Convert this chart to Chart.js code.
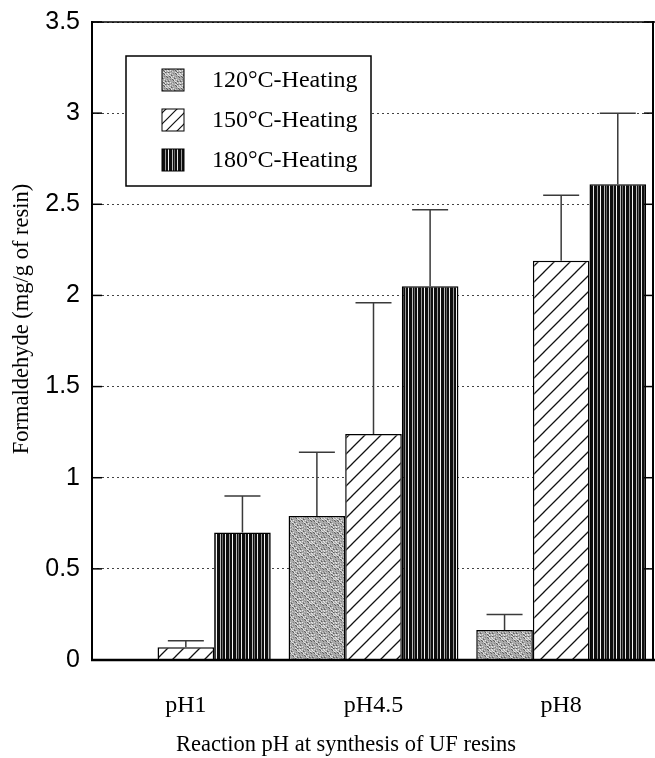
<!DOCTYPE html>
<html><head><meta charset="utf-8">
<script src="https://cdn.jsdelivr.net/npm/chart.js@4.4.0/dist/chart.umd.min.js"></script>
<style>html,body{margin:0;padding:0;background:#fff;overflow:hidden}#wrap{width:655px;height:758px;position:relative}</style>
</head><body><div id="wrap"><canvas id="c" width="655" height="758"></canvas></div>
<script>
const categories = ['pH1', 'pH4.5', 'pH8'];
const seriesLabels = ['120°C-Heating', '150°C-Heating', '180°C-Heating'];
const values120 = [0, 0.79, 0.165];
const values150 = [0.07, 1.24, 2.19];
const values180 = [0.70, 2.05, 2.61];
const errors120 = [0, 0.35, 0.085];
const errors150 = [0.035, 0.72, 0.36];
const errors180 = [0.20, 0.42, 0.39];
const yTicks = [0, 0.5, 1, 1.5, 2, 2.5, 3, 3.5];
const yTitle = 'Formaldehyde (mg/g of resin)';
const xTitle = 'Reaction pH at synthesis of UF resins';

const SERIF = '"Liberation Serif", "Times New Roman", serif';

function mk(w, h) { const c = document.createElement('canvas'); c.width = w; c.height = h; return c; }
function stipplePattern() {
  const c = mk(12, 12), g = c.getContext('2d');
  g.fillStyle = '#ababab'; g.fillRect(0, 0, 12, 12);
  for (let i = 0; i < 12; i++) for (let j = 0; j < 12; j++) {
    const h = (i * 7 + j * 11 + i * j * 3) % 9;
    if (h === 0) { g.fillStyle = '#5e5e5e'; g.fillRect(i, j, 1, 1); }
    else if (h === 4) { g.fillStyle = '#e4e4e4'; g.fillRect(i, j, 1, 1); }
    else if (h === 7) { g.fillStyle = '#858585'; g.fillRect(i, j, 1, 1); }
    else if (h === 2) { g.fillStyle = '#cfcfcf'; g.fillRect(i, j, 1, 1); }
  }
  return g.createPattern(c, 'repeat');
}
function hatchPattern(step, lw) {
  const c = mk(step, step), g = c.getContext('2d');
  g.fillStyle = '#fff'; g.fillRect(0, 0, step, step);
  g.strokeStyle = '#111'; g.lineWidth = lw;
  g.beginPath();
  g.moveTo(-2, step + 2); g.lineTo(step + 2, -2);
  g.moveTo(-2, 2); g.lineTo(2, -2);
  g.moveTo(step - 2, step + 2); g.lineTo(step + 2, step - 2);
  g.stroke();
  return g.createPattern(c, 'repeat');
}
function stripePattern() {
  const c = mk(16, 4), g = c.getContext('2d');
  g.fillStyle = '#0e0e0e'; g.fillRect(0, 0, 16, 4);
  const lights = [[1, '#e8e8e8'], [5, '#9a9a9a'], [8, '#f6f6f6'], [12, '#bcbcbc'], [14, '#6a6a6a']];
  lights.forEach(([x, col]) => { g.fillStyle = col; g.fillRect(x, 0, 1, 4); });
  return g.createPattern(c, 'repeat');
}

const ctx0 = document.getElementById('c').getContext('2d');
const fills = [stipplePattern(), hatchPattern(16, 1.3), stripePattern()];
const legendFills = [stipplePattern(), hatchPattern(11, 1.2), stripePattern()];
const seriesValues = [values120, values150, values180];
const seriesErrors = [errors120, errors150, errors180];

const framePlugin = {
  id: 'frame',
  afterDatasetsDraw(chart) {
    const { ctx, chartArea: a, scales: { y } } = chart;
    ctx.save();
    ctx.strokeStyle = '#000';
    ctx.lineWidth = 1.5;
    ctx.beginPath(); ctx.moveTo(a.left, a.top); ctx.lineTo(a.right, a.top); ctx.stroke();
    ctx.lineWidth = 2;
    ctx.beginPath(); ctx.moveTo(a.left, a.top - 1); ctx.lineTo(a.left, a.bottom); ctx.stroke();
    ctx.beginPath(); ctx.moveTo(a.right - 2, a.top - 1); ctx.lineTo(a.right - 2, a.bottom); ctx.stroke();
    ctx.lineWidth = 2.5;
    ctx.beginPath(); ctx.moveTo(a.left - 1, a.bottom); ctx.lineTo(a.right, a.bottom); ctx.stroke();
    ctx.lineWidth = 1.5;
    y.ticks.forEach(t => {
      const py = y.getPixelForValue(t.value);
      ctx.beginPath(); ctx.moveTo(a.left, py); ctx.lineTo(a.left + 10, py); ctx.stroke();
      ctx.beginPath(); ctx.moveTo(a.right - 2, py); ctx.lineTo(a.right - 11, py); ctx.stroke();
    });
    ctx.restore();
  }
};

const errorPlugin = {
  id: 'errs',
  afterDatasetsDraw(chart) {
    const { ctx, scales: { y } } = chart;
    ctx.save();
    ctx.strokeStyle = '#3a3a3a';
    ctx.lineWidth = 1.5;
    chart.data.datasets.forEach((ds, di) => {
      const meta = chart.getDatasetMeta(di);
      ds.data.forEach((v, i) => {
        const e = seriesErrors[di][i];
        if (!e) return;
        const bar = meta.data[i];
        const top = y.getPixelForValue(v + e);
        const base = y.getPixelForValue(v);
        ctx.beginPath();
        ctx.moveTo(bar.x, base); ctx.lineTo(bar.x, top);
        ctx.moveTo(bar.x - 18, top); ctx.lineTo(bar.x + 18, top);
        ctx.stroke();
      });
    });
    ctx.restore();
  }
};

const legendPlugin = {
  id: 'boxLegend',
  afterDatasetsDraw(chart) {
    const { ctx, chartArea: a } = chart;
    const x0 = a.left + 34, y0 = a.top + 34, w = 245, h = 130;
    ctx.save();
    ctx.fillStyle = '#fff'; ctx.fillRect(x0, y0, w, h);
    ctx.strokeStyle = '#000'; ctx.lineWidth = 1.5; ctx.strokeRect(x0, y0, w, h);
    chart.data.datasets.forEach((ds, i) => {
      const cy = y0 + 24 + i * 40;
      ctx.fillStyle = legendFills[i];
      ctx.fillRect(x0 + 36, cy - 11, 22, 22);
      ctx.lineWidth = 1; ctx.strokeStyle = '#000';
      ctx.strokeRect(x0 + 36, cy - 11, 22, 22);
      ctx.fillStyle = '#000';
      ctx.font = '24px ' + SERIF;
      ctx.textBaseline = 'middle';
      ctx.textAlign = 'left';
      ctx.fillText(ds.label, x0 + 86, cy + 1);
    });
    ctx.restore();
  }
};

const titlePlugin = {
  id: 'axisTitles',
  afterDraw(chart) {
    const { ctx, chartArea: a } = chart;
    ctx.save();
    ctx.fillStyle = '#000';
    ctx.font = '22.5px ' + SERIF;
    ctx.textAlign = 'center';
    ctx.textBaseline = 'middle';
    ctx.fillText(xTitle, a.left + 254, a.bottom + 85);
    ctx.translate(a.left - 70, (a.top + a.bottom) / 2 - 22);
    ctx.rotate(-Math.PI / 2);
    ctx.fillText(yTitle, 0, 0);
    ctx.restore();
  }
};

new Chart(ctx0, {
  type: 'bar',
  data: {
    labels: categories,
    datasets: seriesLabels.map((lab, i) => ({
      label: lab,
      data: seriesValues[i],
      backgroundColor: fills[i],
      borderColor: '#000',
      borderWidth: 1.5,
      barPercentage: 1,
      categoryPercentage: 0.905
    }))
  },
  options: {
    responsive: false,
    animation: false,
    events: [],
    layout: { padding: { top: 22, right: 0, left: 0, bottom: 0 } },
    plugins: { legend: { display: false }, tooltip: { enabled: false }, title: { display: false } },
    scales: {
      x: {
        grid: { display: false, drawTicks: false },
        border: { display: false },
        ticks: { font: { family: SERIF, size: 24 }, color: '#000', padding: 31 },
        afterFit: s => { s.height = 98; s.paddingLeft = 0; s.paddingRight = 0; }
      },
      y: {
        min: 0, max: 3.5,
        afterBuildTicks: s => { s.ticks = yTicks.map(v => ({ value: v })); },
        grid: { color: '#444', lineWidth: 1, drawTicks: false },
        border: { display: false, dash: [2, 3] },
        ticks: {
          font: { family: '"Liberation Sans", Arial, sans-serif', size: 25 },
          color: '#000', padding: 12,
          callback: v => String(v)
        },
        afterFit: s => { s.width = 92; s.paddingTop = 0; s.paddingBottom = 0; }
      }
    }
  },
  plugins: [framePlugin, errorPlugin, legendPlugin, titlePlugin]
});
</script>
</body></html>
